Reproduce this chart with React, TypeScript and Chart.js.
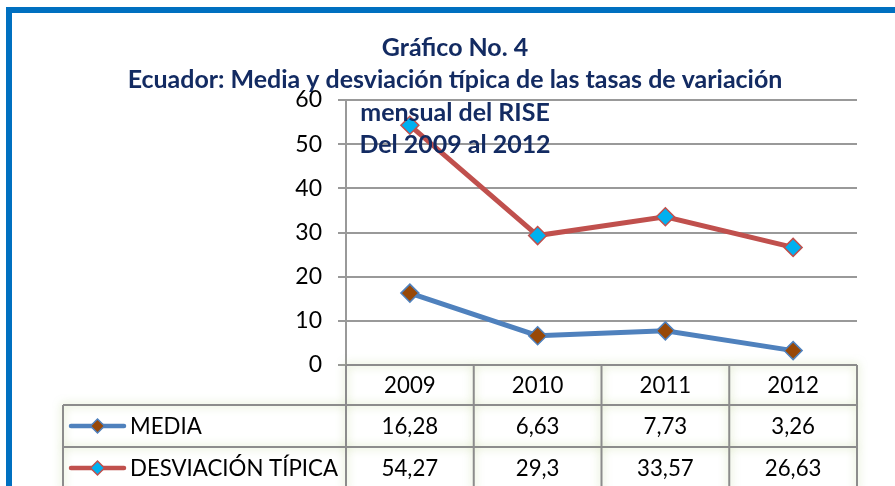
import React, { useEffect, useRef } from "react";
import { Chart, registerables } from "chart.js";

Chart.register(...registerables);

const years = ["2009", "2010", "2011", "2012"];
const media = [16.28, 6.63, 7.73, 3.26];
const desviacion = [54.27, 29.3, 33.57, 26.63];
const seriesNames = ["MEDIA", "DESVIACIÓN TÍPICA"];
const titleLines = [
  "Gráfico No. 4",
  "Ecuador: Media y desviación típica de las tasas de variación",
  "mensual del RISE",
  "Del 2009 al 2012",
];
const yMin = 0;
const yMax = 60;
const yStep = 10;

const FONT = "Lato";
const fmt = (v: number) => String(v).replace(".", ",");

function fitSize(ctx: CanvasRenderingContext2D, text: string, target: number, weight: string) {
  ctx.font = `${weight} 20px ${FONT}`;
  const w = ctx.measureText(text).width;
  return (20 * target) / w;
}

function diamond(ctx: CanvasRenderingContext2D, x: number, y: number, r: number, fill: string, stroke: string) {
  ctx.beginPath();
  ctx.moveTo(x - r, y);
  ctx.lineTo(x, y - r);
  ctx.lineTo(x + r, y);
  ctx.lineTo(x, y + r);
  ctx.closePath();
  ctx.fillStyle = fill;
  ctx.fill();
  ctx.lineWidth = 1.5;
  ctx.strokeStyle = stroke;
  ctx.stroke();
}

const overlay = {
  id: "overlay",
  beforeDraw(chart: any) {
    const ctx = chart.ctx as CanvasRenderingContext2D;
    ctx.save();
    ctx.fillStyle = "#ffffff";
    ctx.fillRect(0, 0, chart.width, chart.height);
    ctx.strokeStyle = "#0070C0";
    ctx.lineWidth = 6;
    ctx.strokeRect(9, 10, chart.width + 20, chart.height + 20);
    ctx.restore();
  },
  afterDraw(chart: any) {
    const ctx = chart.ctx as CanvasRenderingContext2D;
    const { left, right, bottom } = chart.chartArea;
    const n = years.length;
    const colW = (right - left) / n;
    const H = chart.height;
    const legendLeft = 63;
    const r1 = bottom + 40;
    const r2 = r1 + 42;
    const r3 = r2 + 42;
    ctx.save();
    // table borders with soft green glow
    ctx.strokeStyle = "#8C8C8C";
    ctx.lineWidth = 2;
    ctx.shadowColor = "rgba(155,187,89,0.55)";
    ctx.shadowBlur = 8;
    ctx.beginPath();
    for (let i = 0; i <= n; i++) {
      const xx = left + i * colW;
      ctx.moveTo(xx, bottom);
      ctx.lineTo(xx, H + 5);
    }
    ctx.moveTo(legendLeft, r1);
    ctx.lineTo(legendLeft, H + 5);
    ctx.moveTo(legendLeft, r1);
    ctx.lineTo(right, r1);
    ctx.moveTo(legendLeft, r2);
    ctx.lineTo(right, r2);
    ctx.moveTo(left, bottom);
    ctx.lineTo(right, bottom);
    ctx.stroke();
    ctx.shadowBlur = 0;
    ctx.shadowColor = "transparent";

    // table text
    const tSize = fitSize(ctx, seriesNames[1], 208, "normal");
    ctx.font = `normal ${tSize}px ${FONT}`;
    ctx.fillStyle = "#000000";
    ctx.textAlign = "center";
    ctx.textBaseline = "middle";
    const xs = chart.scales.x;
    years.forEach((y, i) => {
      const cx = xs.getPixelForValue(i);
      ctx.fillText(y, cx, (bottom + r1) / 2 + 1);
      ctx.fillText(fmt(media[i]), cx, (r1 + r2) / 2 + 1);
      ctx.fillText(fmt(desviacion[i]), cx, (r2 + r3) / 2 + 1);
    });
    // legend cells
    const legends = [
      { name: seriesNames[0], line: "#4F81BD", fill: "#984807", y: (r1 + r2) / 2 },
      { name: seriesNames[1], line: "#C0504D", fill: "#00B0F0", y: (r2 + r3) / 2 },
    ];
    legends.forEach((l) => {
      ctx.beginPath();
      ctx.strokeStyle = l.line;
      ctx.lineWidth = 4.5;
      ctx.lineCap = "round";
      ctx.moveTo(71, l.y);
      ctx.lineTo(124, l.y);
      ctx.stroke();
      diamond(ctx, 97.5, l.y, 7, l.fill, l.line);
      ctx.fillStyle = "#000000";
      ctx.textAlign = "left";
      ctx.fillText(l.name, 130, l.y + 1);
    });

    // title
    const hSize = fitSize(ctx, titleLines[1], 655, "bold");
    ctx.font = `bold ${hSize}px ${FONT}`;
    ctx.fillStyle = "#132B62";
    ctx.textAlign = "center";
    ctx.textBaseline = "alphabetic";
    const baselines = [56, 88, 121, 153];
    titleLines.forEach((t, i) => ctx.fillText(t, 455, baselines[i]));
    ctx.restore();
  },
};

export default function App() {
  const ref = useRef<HTMLCanvasElement | null>(null);
  useEffect(() => {
    if (!ref.current) return;
    const chart = new Chart(ref.current, {
      type: "line",
      data: {
        labels: years,
        datasets: [
          {
            label: seriesNames[0],
            data: media,
            borderColor: "#4F81BD",
            borderWidth: 5,
            pointStyle: "rectRot",
            pointRadius: 9,
            pointBackgroundColor: "#984807",
            pointBorderColor: "#4F81BD",
            pointBorderWidth: 1.5,
            tension: 0,
            clip: false,
          },
          {
            label: seriesNames[1],
            data: desviacion,
            borderColor: "#C0504D",
            borderWidth: 5,
            pointStyle: "rectRot",
            pointRadius: 9,
            pointBackgroundColor: "#00B0F0",
            pointBorderColor: "#C0504D",
            pointBorderWidth: 1.5,
            tension: 0,
            clip: false,
          },
        ],
      },
      options: {
        responsive: false,
        animation: false,
        devicePixelRatio: 1,
        layout: { padding: { left: 0, right: 38, top: 100, bottom: 121 } },
        plugins: {
          legend: { display: false },
          title: { display: false },
          tooltip: { enabled: false },
        },
        scales: {
          x: {
            type: "category",
            display: false,
            offset: true,
          },
          y: {
            min: yMin,
            max: yMax,
            ticks: {
              stepSize: yStep,
              color: "#000000",
              font: { family: FONT, size: 23 },
              padding: 16,
            },
            grid: {
              color: "#999999",
              lineWidth: 2,
              tickLength: 8,
            },
            border: { display: true, color: "#999999", width: 2 },
            afterFit: (scale: any) => {
              scale.width = 346;
            },
          },
        },
      },
      plugins: [overlay],
    });
    return () => chart.destroy();
  }, []);
  return (
    <div style={{ position: "fixed", left: 0, top: 0, width: 895, height: 486 }}>
      <canvas ref={ref} width={895} height={486} style={{ display: "block" }} />
    </div>
  );
}
